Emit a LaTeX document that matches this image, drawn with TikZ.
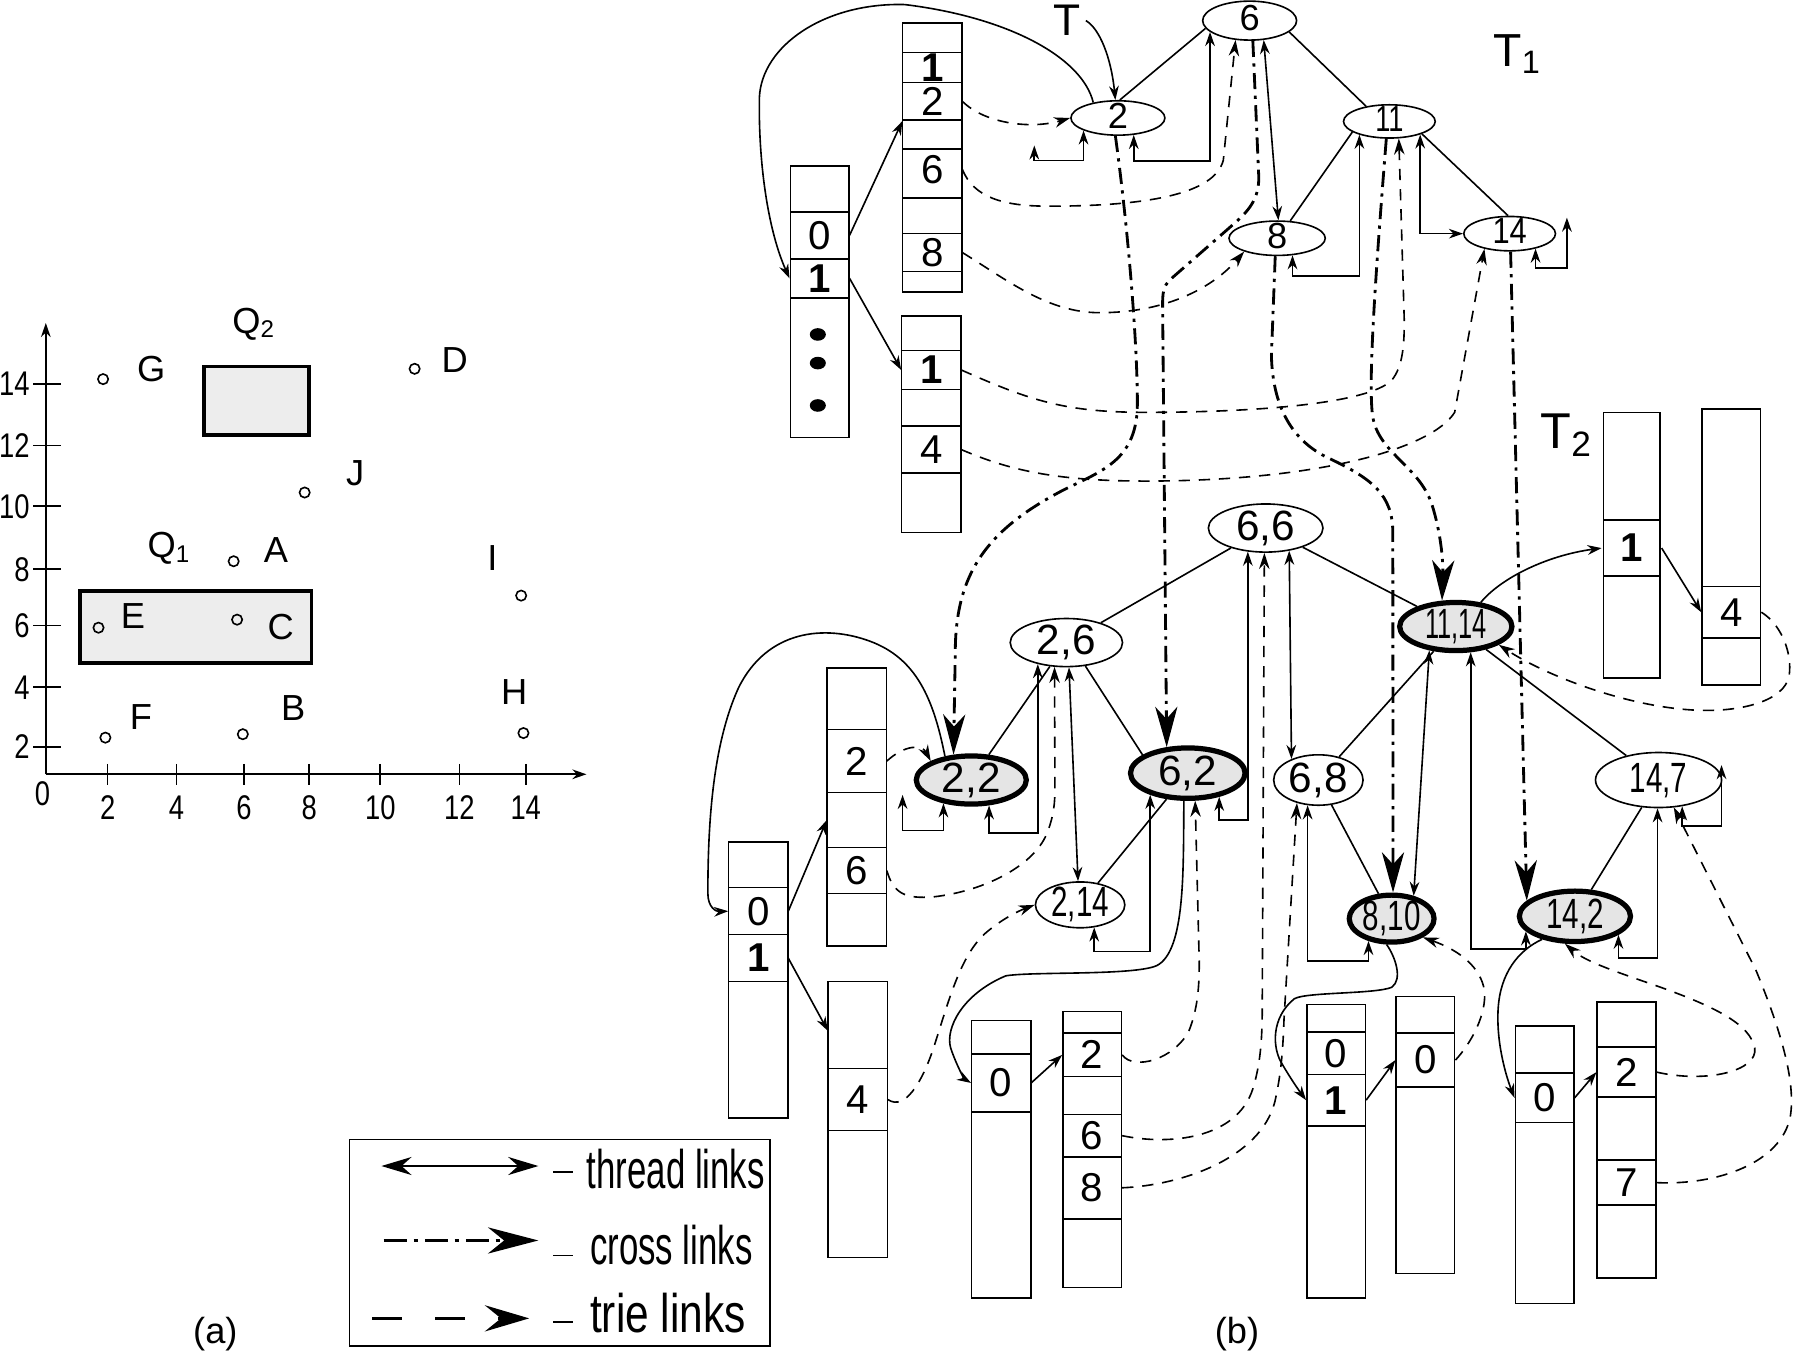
\documentclass[tikz,border=0pt]{standalone}
\usepackage{fontspec}
\setmainfont{Liberation Sans}
\usepackage{graphicx}
\usetikzlibrary{arrows.meta,shapes.geometric}

% narrow text
\newcommand\nar[2][0.75]{\scalebox{#1}[1]{#2}}
\newcommand\lbl{\fontsize{9}{9}\selectfont}
\newcommand\tck{\fontsize{8.5}{8.5}\selectfont}
\newcommand\leg{\fontsize{13.5}{14}\selectfont}

\begin{document}
\begin{tikzpicture}[x=0.01cm, y=-0.01cm, line width=0.4pt,
    every node/.style={inner sep=1pt},
    tn/.style={ellipse, draw, inner sep=0, text height=5pt, text depth=0pt,
        font=\fontsize{9}{9}\selectfont},
    pn/.style={ellipse, draw, inner sep=0, text height=6pt, text depth=0pt,
        font=\fontsize{10.5}{10.5}\selectfont},
    hit/.style={pn, fill=black!10, line width=1.3pt},
    box/.style={draw, line width=0.4pt},
    qbox/.style={draw, fill=black!7, line width=0.9pt},
    cell/.style={minimum width=5.1mm, inner sep=0, font=\fontsize{10}{10}\selectfont},
    spot/.style={draw, circle, inner sep=0, minimum size=0.9mm},
    thr/.style={<->, >={Stealth[length=3.5pt,width=2.4pt]}},
    sol/.style={->, >={Stealth[length=3.5pt,width=2.4pt]}},
    tri/.style={->, >={Stealth[length=4pt,width=2.6pt]}, dash pattern=on 2.8pt off 2.2pt},
    crs/.style={->, >={Stealth[length=10pt,width=5.5pt,inset=3pt]}, line width=0.7pt,
        dash pattern=on 4pt off 1.6pt on 0.8pt off 1.6pt},
  ]
  \useasboundingbox (0,0) rectangle (1568,1185);

  % ---------------- (a) points and queries ----------------
  \draw[sol] (40,676) -- (40,282);
  \draw[sol] (40,676) -- (512,676);
  \foreach \v/\y in {14/335,12/389,10/442,8/497,6/546,4/600,2/652}
  {
    \draw (29,\y) -- (53,\y);
    \node[left, font=\tck] (ty\v) at (30,\y) {\nar[0.8]{\v}};
  }
  \foreach \v/\x in {2/94,4/154,6/213,8/270,10/332,12/401,14/459}
  {
    \draw (\x,667) -- (\x,685);
    \node[font=\tck] (tx\v) at (\x,705) {\nar[0.8]{\v}};
  }
  \node[font=\tck] (tx0) at (37,693) {\nar[0.8]{0}};

  \draw[qbox] (178,320) rectangle (270,380);
  \draw[qbox] (70,516) rectangle (272,579);
  \node[font=\lbl] (q2) at (222,283) {Q\textsubscript{2}};
  \node[font=\lbl] (q1) at (148,479) {Q\textsubscript{1}};

  \foreach \n/\x/\y/\lx/\ly in {G/90/331/132/322, D/362/322/397/314, J/266/430/310/413,
      A/204/490/241/480, I/455/520/430/487, E/86/548/116/538, C/207/541/245/547,
      F/92/644/123/626, B/212/641/256/618, H/457/640/449/604}
  {
    \node[spot] (p\n) at (\x,\y) {};
    \node[font=\lbl] (l\n) at (\lx,\ly) {\n};
  }
  \node[font=\lbl] (capa) at (188,1165) {(a)};

  % ---------------- (b) T1 ----------------
  \node[tn, minimum width=8.2mm, minimum height=3.4mm] (t6) at (1091,18) {6};
  \node[tn, minimum width=8.2mm, minimum height=3mm] (t2) at (976,103) {2};
  \node[tn, minimum width=8mm, minimum height=2.9mm] (t11) at (1213,106) {\nar{11}};
  \node[tn, minimum width=8.4mm, minimum height=3mm] (t8) at (1115,208) {8};
  \node[tn, minimum width=8mm, minimum height=3mm] (t14) at (1318,204) {\nar[0.85]{14}};
  \node[font=\fontsize{11}{11}\selectfont] (tlab) at (932,18) {T};
  \node[font=\fontsize{11.5}{12}\selectfont] (t1lab) at (1325,47) {T\textsubscript{1}};

  \draw (t6.190) -- (t2.84);
  \draw (t6.-16) -- (t11.147);
  \draw (t11.-164) -- (t8.53);
  \draw (t11.-21) -- (t14.95);

  % root trie node of T1
  \draw[box] (690,145) rectangle (741,382);
  \foreach \y in {185,226,260} \draw[box] (690,\y) -- (741,\y);
  \node[cell] (r1-0) at (715.5,205.5) {0};
  \node[cell] (r1-1) at (715.5,243) {\bfseries 1};
  \foreach \y in {292,317,354} \fill (714,\y) ellipse (0.7mm and 0.55mm);

  \draw[box] (788,20) rectangle (840,255);
  \foreach \y in {46,72,105,130,173,204,237} \draw[box] (788,\y) -- (840,\y);
  \node[cell] (a12-1) at (814,59) {\bfseries 1};
  \node[cell, minimum height=3.3mm] (a12-2) at (814,88.5) {2};
  \node[cell] (a12-6) at (814,148) {6};
  \node[cell] (a12-8) at (814,220.5) {8};

  \draw[box] (787,276) rectangle (839,465);
  \foreach \y in {306,340,372,413} \draw[box] (787,\y) -- (839,\y);
  \node[cell] (a14-1) at (813,323) {\bfseries 1};
  \node[cell] (a14-4) at (813,392.5) {4};

  \draw[sol] (r1-0.east) -- (a12-2.south west);
  \draw[sol] (r1-1.east) -- (a14-1.west);
  \draw[sol] (t2.148) .. controls (945,50) and (880,15) .. (790,4)
      .. controls (720,2) and (665,40) .. (663,85)
      .. controls (662,140) and (670,200) .. (r1-1.west);
  \draw[sol] (tlab.east) .. controls (960,25) and (970,50) .. (t2.98);

  % thread links T1
  \coordinate (nil2) at (903,127);
  \coordinate (nil14) at (1368,190);
  \draw[thr] (nil2) -- ++(0,13) -| (t2.-160);
  \draw[thr] (t2.-47) -- ++(0,23) -| (t6.-164);
  \draw[thr] (t6.-54) -- (t8.86);
  \draw[thr] (t8.-48) -- ++(0,18) -| (t11.-156);
  \draw[thr] (t11.-23) |- (t14.west);
  \draw[thr] (t14.-30) -- ++(0,17) -| (nil14);

  % trie links T1
  \draw[tri] (a12-2.east) .. controls (860,108) and (900,113) .. (t2.west);
  \draw[tri] (a12-6.east) .. controls (850,172) and (875,180) .. (915,180)
      .. controls (1000,180) and (1060,170) .. (1068,140) -- (t6.-126);
  \draw[tri] (a12-8.east) .. controls (880,245) and (915,273) .. (960,273)
      .. controls (1020,273) and (1060,250) .. (t8.-158);
  \draw[tri] (a14-1.east) .. controls (900,350) and (930,360) .. (1000,360)
      .. controls (1100,360) and (1195,352) .. (1215,332)
      .. controls (1225,320) and (1226,300) .. (1226,280) -- (t11.-61);
  \draw[tri] (a14-4.east) .. controls (880,410) and (920,420) .. (1000,420)
      .. controls (1150,420) and (1250,392) .. (1270,360) -- (t14.-149);

  % ---------------- (b) T2 ----------------
  \node[pn, minimum width=10mm, minimum height=4.2mm] (p66) at (1105,461) {6,6};
  \node[pn, minimum width=9.8mm, minimum height=4.2mm] (p26) at (931,561) {2,6};
  \node[hit, minimum width=9.8mm, minimum height=4.2mm] (p1114) at (1271,547) {\nar[0.6]{11,14}};
  \node[hit, minimum width=9.6mm, minimum height=4.2mm] (p22) at (848,681) {2,2};
  \node[hit, minimum width=10mm, minimum height=4.4mm] (p62) at (1037,675) {6,2};
  \node[pn, minimum width=7.8mm, minimum height=4.4mm] (p68) at (1151,681) {6,8};
  \node[pn, minimum width=11mm, minimum height=4.8mm] (p147) at (1448,681) {\nar[0.7]{14,7}};
  \node[pn, minimum width=7.8mm, minimum height=4mm] (p214) at (943,790) {\nar[0.7]{2,14}};
  \node[hit, minimum width=7.4mm, minimum height=4.1mm] (p810) at (1215,802) {\nar[0.7]{8,10}};
  \node[hit, minimum width=9.7mm, minimum height=4.4mm] (p142) at (1375,800) {\nar[0.7]{14,2}};
  \node[font=\fontsize{12.5}{13}\selectfont] (t2lab) at (1368,380) {T\textsubscript{2}};

  \draw (p66) -- (p26);
  \draw (p66) -- (p1114);
  \draw (p26) -- (p22);
  \draw (p26.-51) -- (p62.158);
  \draw (p62) -- (p214);
  \draw (p1114) -- (p68);
  \draw (p1114) -- (p147);
  \draw (p68) -- (p810);
  \draw (p147) -- (p142);

  % trie nodes of T2
  \draw[box] (636,735) rectangle (688,976);
  \foreach \y in {775,816,857} \draw[box] (636,\y) -- (688,\y);
  \node[cell] (rb-0) at (662,795.5) {0};
  \node[cell] (rb-1) at (662,836.5) {\bfseries 1};

  \draw[box] (722,583) rectangle (774,826);
  \foreach \y in {637,692,740,780} \draw[box] (722,\y) -- (774,\y);
  \node[cell] (ab1-2) at (748,664.5) {2};
  \node[cell] (ab1-e) at (748,716) {};
  \node[cell] (ab1-6) at (748,760) {6};

  \draw[box] (723,857) rectangle (775,1098);
  \foreach \y in {933,987} \draw[box] (723,\y) -- (775,\y);
  \node[cell] (ab2-e) at (749,900) {};
  \node[cell] (ab2-4) at (749,960) {4};

  \draw[box] (848,891) rectangle (900,1133);
  \foreach \y in {920,971} \draw[box] (848,\y) -- (900,\y);
  \node[cell] (ab3-0) at (874,945.5) {0};

  \draw[box] (928,883) rectangle (979,1124);
  \foreach \y in {902,940,973,1010,1064} \draw[box] (928,\y) -- (979,\y);
  \node[cell] (ab4-2) at (953.5,921) {2};
  \node[cell] (ab4-6) at (953.5,991.5) {6};
  \node[cell] (ab4-8) at (953.5,1037) {8};

  \draw[box] (1141,877) rectangle (1192,1133);
  \foreach \y in {901,938,983} \draw[box] (1141,\y) -- (1192,\y);
  \node[cell] (ab5-0) at (1166.5,919.5) {0};
  \node[cell] (ab5-1) at (1166.5,960.5) {\bfseries 1};

  \draw[box] (1219,870) rectangle (1270,1112);
  \foreach \y in {902,949} \draw[box] (1219,\y) -- (1270,\y);
  \node[cell] (ab6-0) at (1244.5,925.5) {0};

  \draw[box] (1323,896) rectangle (1374,1138);
  \foreach \y in {937,980} \draw[box] (1323,\y) -- (1374,\y);
  \node[cell] (ab7-0) at (1348.5,958.5) {0};

  \draw[box] (1394,875) rectangle (1446,1116);
  \foreach \y in {914,958,1013,1052} \draw[box] (1394,\y) -- (1446,\y);
  \node[cell] (ab8-2) at (1420,936) {2};
  \node[cell] (ab8-7) at (1420,1032.5) {7};

  \draw[box] (1400,360) rectangle (1449,592);
  \foreach \y in {454,503} \draw[box] (1400,\y) -- (1449,\y);
  \node[cell] (at1-1) at (1424.5,478.5) {\bfseries 1};

  \draw[box] (1486,357) rectangle (1537,598);
  \foreach \y in {512,557} \draw[box] (1486,\y) -- (1537,\y);
  \node[cell] (at2-4) at (1511.5,534.5) {4};

  % pointers into the tries
  \draw[sol] (p22.138) .. controls (815,610) and (800,575) .. (760,560)
      .. controls (720,545) and (670,550) .. (645,600)
      .. controls (622,650) and (618,720) .. (618,780)
      .. controls (618,792) and (625,796) .. (rb-0.west);
  \draw[sol] (rb-0.east) -- (ab1-e.west);
  \draw[sol] (rb-1.east) -- (ab2-e.west);
  \draw[sol] (p62.-98) .. controls (1033,760) and (1035,830) .. (1010,843)
      .. controls (990,852) and (900,848) .. (878,852)
      .. controls (840,868) and (825,898) .. (830,915)
      .. controls (835,930) and (842,942) .. (ab3-0.west);
  \draw[sol] (ab3-0.east) -- (ab4-2.west);
  \draw[sol] (p810.-101) .. controls (1218,835) and (1225,855) .. (1215,862)
      .. controls (1200,868) and (1140,866) .. (1130,872)
      .. controls (1110,888) and (1110,915) .. (1120,930)
      .. controls (1127,942) and (1134,952) .. (ab5-1.west);
  \draw[sol] (ab5-1.east) -- (ab6-0.west);
  \draw[sol] (p142.-145) .. controls (1325,830) and (1310,850) .. (1308,880)
      .. controls (1306,910) and (1315,940) .. (ab7-0.west);
  \draw[sol] (ab7-0.east) -- (ab8-2.west);
  \draw[sol] (p1114.44) .. controls (1310,505) and (1350,485) .. (at1-1.west);
  \draw[sol] (at1-1.east) -- (at2-4.west);

  % thread links T2
  \coordinate (nil22) at (788,694);
  \coordinate (nil147) at (1503,668);
  \draw[thr] (nil22) -- ++(0,31) -| (p22.-140);
  \draw[thr] (p22.-55) -- ++(0,24) -| (p26.-143);
  \draw[thr] (p26.-84) -- (p214.95);
  \draw[thr] (p214.-58) -- ++(0,21) -| (p62.-150);
  \draw[thr] (p62.-37) -- ++(0,20) -| (p66.-127);
  \draw[thr] (p66.-44) -- (p68.142);
  \draw[thr] (p68.-113) -- ++(0,136) -| (p810.-136);
  \draw[thr] (p810.46) -- (p1114.-138);
  \draw[thr] (p1114.-60) -- ++(0,259) -| (p142.-163);
  \draw[thr] (p142.-23) -- ++(0,20) -| (p147.-92);
  \draw[thr] (p147.-48) -- ++(0,17) -| (nil147);

  % trie links T2
  \draw[tri] (ab1-2.east) .. controls (790,650) and (805,650) .. (p22.155);
  \draw[tri] (ab1-6.east) .. controls (780,780) and (790,785) .. (815,783)
      .. controls (860,778) and (905,755) .. (915,725)
      .. controls (920,712) and (921,700) .. (921,690) -- (p26.-116);
  \draw[tri] (ab2-4.east) .. controls (790,970) and (805,945) .. (815,915)
      .. controls (828,875) and (838,835) .. (860,815)
      .. controls (875,802) and (890,795) .. (p214.west);
  \draw[tri] (ab4-2.east) .. controls (990,935) and (1025,925) .. (1038,900)
      .. controls (1046,880) and (1047,860) .. (1047,840) -- (p62.-75);
  \draw[tri] (ab4-6.east) .. controls (1020,1000) and (1080,995) .. (1094,950)
      .. controls (1100,930) and (1102,910) .. (1102,880) -- (p66.-93);
  \draw[tri] (ab4-8.east) .. controls (1030,1035) and (1100,1012) .. (1113,962)
      .. controls (1118,940) and (1120,920) .. (1121,890) -- (p68.-133);
  \draw[tri] (ab6-0.east) .. controls (1285,910) and (1298,885) .. (1296,865)
      .. controls (1293,845) and (1275,830) .. (p810.-31);
  \draw[tri] (ab8-2.east) .. controls (1490,946) and (1535,935) .. (1532,915)
      .. controls (1528,895) and (1500,880) .. (1450,862)
      .. controls (1410,848) and (1385,840) .. (p142.-110);
  \draw[tri] (ab8-7.east) .. controls (1500,1035) and (1555,1015) .. (1563,975)
      .. controls (1568,945) and (1555,900) .. (1533,847) -- (p147.-61);
  \draw[tri] (at2-4.east) .. controls (1555,545) and (1565,570) .. (1562,590)
      .. controls (1558,612) and (1520,622) .. (1480,620)
      .. controls (1420,617) and (1350,590) .. (p1114.-23);

  % cross links T1 -> T2
  \draw[crs] (t2.-98) .. controls (985,200) and (993,300) .. (993,352)
      .. controls (993,400) and (965,410) .. (930,427)
      .. controls (862,462) and (834,500) .. (834,570) -- (p22.125);
  \draw[crs] (t6.-81) -- (1099,155) .. controls (1099,172) and (1092,182) .. (1080,193)
      -- (1024,242) .. controls (1017,248) and (1015,252) .. (1015,265) -- (p62.129);
  \draw[crs] (t8.-96) -- (1110,310) .. controls (1111,355) and (1128,385) .. (1160,400)
      .. controls (1198,418) and (1216,432) .. (1216,465) -- (p810.87);
  \draw[crs] (t11.-100) .. controls (1200,250) and (1195,330) .. (1198,360)
      .. controls (1201,395) and (1238,405) .. (1250,440)
      .. controls (1258,465) and (1260,490) .. (p1114.118);
  \draw[crs] (t14.-87) -- (p142.162);

  \node[font=\lbl] (capb) at (1080,1165) {(b)};

  % ---------------- legend ----------------
  \draw[box] (305,995) rectangle (672,1175);
  \draw[<->, >={Stealth[length=7.5pt,width=4.5pt,inset=2.5pt]}] (333,1018) -- (470,1018);
  \draw[->, >={Stealth[length=12.5pt,width=6.5pt,inset=4pt]}, line width=0.85pt,
      dash pattern=on 5.7pt off 1.7pt on 1.1pt off 1.7pt] (335,1083) -- (470,1083);
  \draw[->, >={Stealth[length=11pt,width=6.5pt,inset=4pt]}, line width=0.85pt,
      dash pattern=on 7.4pt off 8.2pt] (325,1151) -- (462,1151);
  \foreach \y in {1023,1096,1154} \draw (483,\y) -- (500,\y);
  \node[anchor=west, font=\leg] (lthr) at (508,1021) {\nar[0.64]{thread links}};
  \node[anchor=west, font=\leg] (lcrs) at (511,1087) {\nar[0.64]{cross links}};
  \node[anchor=west, font=\leg] (ltri) at (511,1146) {\nar[0.78]{trie links}};
\end{tikzpicture}
\end{document}
